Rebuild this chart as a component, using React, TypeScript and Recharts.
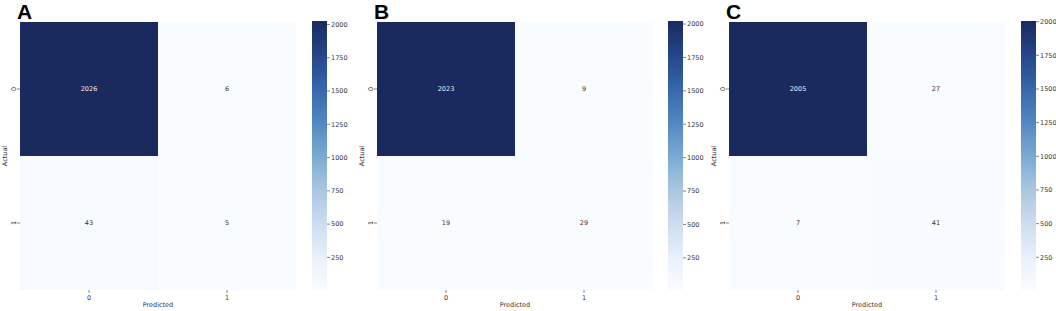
import React from 'react';
import { BarChart, Bar, XAxis, YAxis, Cell, LabelList, Label } from 'recharts';

// confusion matrices, rows = actual, cols = predicted
const ROW_LABELS = ['0', '1'];
const COL_LABELS = ['0', '1'];
const MATRIX_A = [[2026, 6], [43, 5]];
const MATRIX_B = [[2023, 9], [19, 29]];
const MATRIX_C = [[2005, 27], [7, 41]];
const COLORBAR_TICKS = [250, 500, 750, 1000, 1250, 1500, 1750, 2000];

// Blues-like colormap, as it looks in the figure
const STOPS: [number, string][] = [
  [0, '#f9fcff'],
  [0.125, '#e8f0f9'],
  [0.25, '#cddcef'],
  [0.375, '#a9c6e2'],
  [0.5, '#7aa8d2'],
  [0.625, '#5188c1'],
  [0.75, '#3766aa'],
  [0.875, '#254589'],
  [1, '#1a2a5e'],
];

const hex = (c: string) => [1, 3, 5].map(i => parseInt(c.slice(i, i + 2), 16));

const colorAt = (t: number) => {
  const v = Math.max(0, Math.min(1, t));
  for (let i = 1; i < STOPS.length; i++) {
    if (v <= STOPS[i][0]) {
      const [t0, c0] = STOPS[i - 1];
      const [t1, c1] = STOPS[i];
      const f = (v - t0) / (t1 - t0);
      const a = hex(c0);
      const b = hex(c1);
      const m = a.map((x, k) => Math.round(x + (b[k] - x) * f));
      return `rgb(${m[0]},${m[1]},${m[2]})`;
    }
  }
  return STOPS[STOPS.length - 1][1];
};

const FONT = 'DejaVu Sans, sans-serif';
const TXT = '#333333';

interface PanelProps {
  letter: string;
  matrix: number[][];
  left: number;
  cbLeft: number;
}

const Panel: React.FC<PanelProps> = ({ letter, matrix, left, cbLeft }) => {
  const flat = matrix.flat();
  const vmin = Math.min(...flat);
  const vmax = Math.max(...flat);
  const norm = (v: number) => (v - vmin) / (vmax - vmin);

  // one entry per predicted column, two stacked rows
  const data = COL_LABELS.map((c, j) => ({
    pred: c,
    r1: 1,
    r0: 1,
    v1: matrix[1][j],
    v0: matrix[0][j],
  }));

  const renderValue = (props: any) => {
    const { x, y, width, height, value } = props;
    const dark = norm(value) > 0.5;
    return (
      <text
        x={x + width / 2}
        y={y + height / 2}
        textAnchor="middle"
        dominantBaseline="central"
        fontSize={6.5}
        fontFamily={FONT}
        fill={dark ? '#e8ecf5' : TXT}
      >
        {value}
      </text>
    );
  };

  const YTick = (props: any) => {
    const { x, y, payload } = props;
    const label = payload.value > 1 ? ROW_LABELS[0] : ROW_LABELS[1];
    return (
      <g transform={`translate(${x + 1},${y}) rotate(-90)`}>
        <text textAnchor="middle" fontSize={6.5} fontFamily={FONT} fill={TXT}>
          {label}
        </text>
      </g>
    );
  };

  const gradId = `cb-${letter}`;

  return (
    <>
      <svg
        width={30}
        height={24}
        style={{ position: 'absolute', left: left + 16, top: 0 }}
      >
        <text
          x={1}
          y={19}
          fontFamily="Liberation Sans, Arial, sans-serif"
          fontWeight="bold"
          fontSize={21}
          fill="#000"
        >
          {letter}
        </text>
      </svg>
      <div style={{ position: 'absolute', left, top: 0 }}>
        <BarChart
          width={300}
          height={311}
          data={data}
          margin={{ top: 22, right: 4, bottom: 0, left: 0 }}
          barCategoryGap={0}
          barGap={0}
        >
          <XAxis
            dataKey="pred"
            height={21}
            axisLine={false}
            tickSize={3}
            tickLine={{ stroke: TXT, strokeWidth: 0.6 }}
            tick={{ fontSize: 6.5, fontFamily: FONT, fill: TXT }}
          >
            <Label
              content={({ viewBox }: any) => (
                <text
                  x={viewBox.x + viewBox.width / 2}
                  y={viewBox.y + 17}
                  textAnchor="middle"
                  fontSize={6.5}
                  fontFamily={FONT}
                  fill={TXT}
                >
                  Predicted
                </text>
              )}
            />
          </XAxis>
          <YAxis
            type="number"
            domain={[0, 2]}
            ticks={[0.5, 1.5]}
            width={20}
            axisLine={false}
            tickSize={3}
            tickMargin={2}
            tickLine={{ stroke: TXT, strokeWidth: 0.6 }}
            tick={<YTick />}
          >
            <Label
              content={({ viewBox }: any) => (
                <text
                  transform={`translate(${viewBox.x + 7},${viewBox.y + viewBox.height / 2}) rotate(-90)`}
                  textAnchor="middle"
                  fontSize={6.5}
                  fontFamily={FONT}
                  fill={TXT}
                >
                  Actual
                </text>
              )}
            />
          </YAxis>
          <Bar dataKey="r1" stackId="m" isAnimationActive={false}>
            {data.map((d, j) => (
              <Cell key={`r1-${j}`} fill={colorAt(norm(d.v1))} />
            ))}
            <LabelList dataKey="v1" content={renderValue} />
          </Bar>
          <Bar dataKey="r0" stackId="m" isAnimationActive={false}>
            {data.map((d, j) => (
              <Cell key={`r0-${j}`} fill={colorAt(norm(d.v0))} />
            ))}
            <LabelList dataKey="v0" content={renderValue} />
          </Bar>
        </BarChart>
      </div>
      <div style={{ position: 'absolute', left: cbLeft, top: 0 }}>
        <BarChart
          width={45}
          height={311}
          data={[{ name: 'cb', span: [vmin, vmax] }]}
          margin={{ top: 21, right: 0, bottom: 21, left: 0 }}
          barCategoryGap={0}
        >
          <defs>
            <linearGradient id={gradId} x1="0" y1="1" x2="0" y2="0">
              {STOPS.map(([t, c]) => (
                <stop key={t} offset={`${t * 100}%`} stopColor={c} />
              ))}
            </linearGradient>
          </defs>
          <XAxis dataKey="name" hide />
          <YAxis
            orientation="right"
            type="number"
            domain={[vmin, vmax]}
            ticks={COLORBAR_TICKS}
            width={30}
            axisLine={false}
            tickSize={3}
            tickMargin={1}
            tickLine={{ stroke: TXT, strokeWidth: 0.6 }}
            tick={{ fontSize: 6.5, fontFamily: FONT, fill: TXT }}
          />
          <Bar dataKey="span" fill={`url(#${gradId})`} isAnimationActive={false} />
        </BarChart>
      </div>
    </>
  );
};

export default function App() {
  return (
    <div
      style={{
        position: 'absolute',
        left: 0,
        top: 0,
        width: 1056,
        height: 311,
        background: '#fff',
        overflow: 'hidden',
      }}
    >
      <Panel letter="A" matrix={MATRIX_A} left={0} cbLeft={312} />
      <Panel letter="B" matrix={MATRIX_B} left={357} cbLeft={668} />
      <Panel letter="C" matrix={MATRIX_C} left={709} cbLeft={1021} />
    </div>
  );
}
